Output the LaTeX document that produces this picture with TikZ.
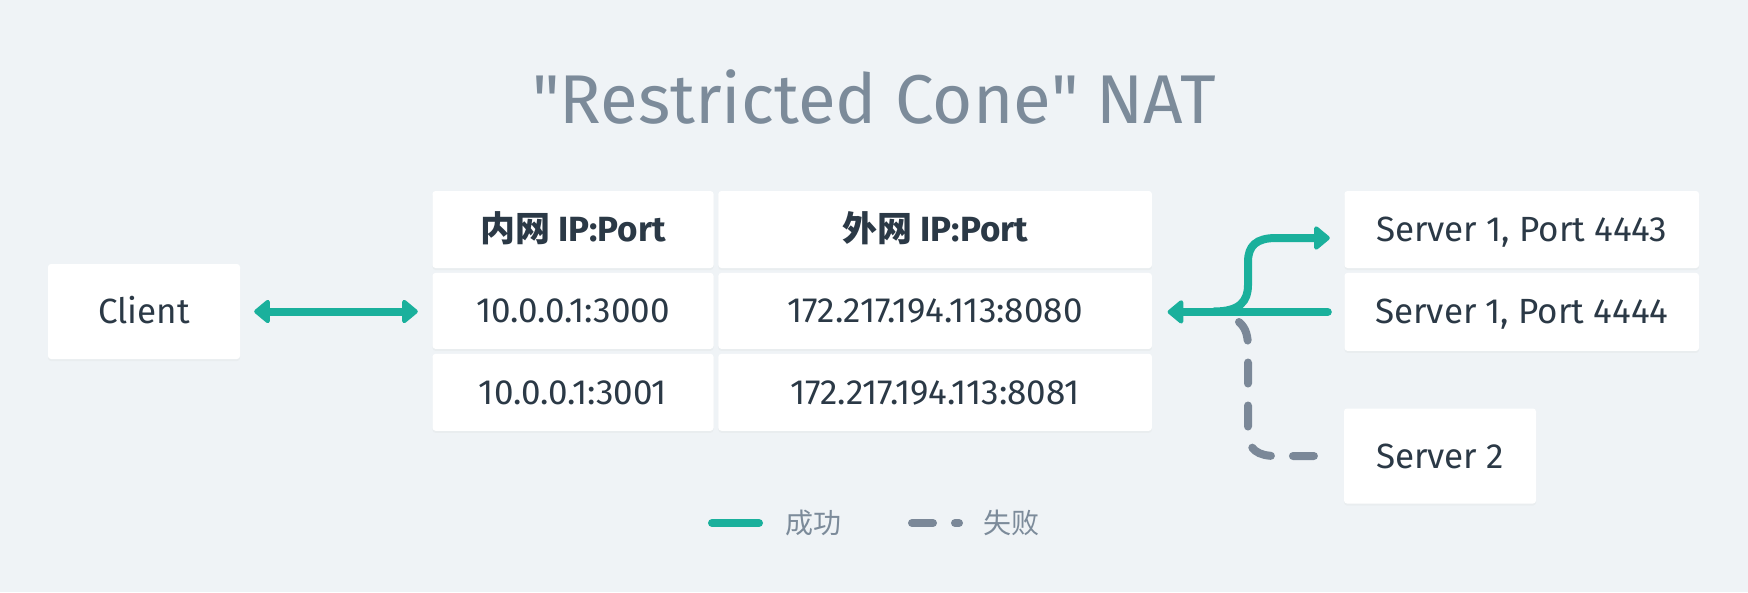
\documentclass[tikz,border=0pt]{standalone}
\usepackage{fontspec}
\setmainfont{Fira Sans}
\newfontfamily\cjk{Noto Sans CJK SC}
\usepackage{tikz}
\usetikzlibrary{positioning}
\usetikzlibrary{arrows.meta, shadows}
\definecolor{bgcol}{HTML}{EFF3F6}
\definecolor{okcol}{HTML}{1AB09C}
\definecolor{failcol}{HTML}{7B8898}
\definecolor{txtcol}{HTML}{2B3946}
\definecolor{titlecol}{HTML}{7C8B9A}
\tikzstyle{card} = [fill=white,draw=none,text=txtcol,rounded corners=3pt,inner sep=0pt,font=\fontsize{35}{42}\selectfont,text height=24pt,text depth=0pt,drop shadow={opacity=0.05,shadow xshift=0pt,shadow yshift=-2pt}]
\tikzstyle{okline} = [okcol,line width=8pt,line cap=round]
\tikzstyle{failline} = [failcol,line width=8pt,line cap=round,dash pattern=on 21pt off 22pt]
\tikzstyle{arrow} = [-{Triangle[length=17pt,width=27pt,round]}]
\tikzstyle{biarrow} = [{Triangle[length=17pt,width=27pt,round]}-{Triangle[length=17pt,width=27pt,round]}]
\tikzstyle{legend} = [text=titlecol,font=\cjk\fontsize{28}{34}\selectfont,inner sep=0pt,anchor=west]

\begin{document}
\begin{tikzpicture}[x=1pt,y=-1pt]
	\fill[bgcol] (0,0) rectangle (1748,592);
	\useasboundingbox (0,0) rectangle (1748,592);

	%Nodes
	\node [text=titlecol,font=\fontsize{69}{83}\selectfont,text height=48pt,text depth=0pt,inner sep=0pt] (title) at (874,99) {\textquotedbl Restricted Cone\textquotedbl{} NAT};

	\node [card,minimum width=192pt,minimum height=95pt] (client) at (144,311.5) {Client};

	\node [card,minimum width=281pt,minimum height=77pt] (h1) at (573,229.5) {\bfseries{\cjk\bfseries 内网} IP:Port};
	\node [card,minimum width=433.5pt,minimum height=77pt,right=4.5pt of h1] (h2) {\bfseries{\cjk\bfseries 外网} IP:Port};
	\node [card,minimum width=281pt,minimum height=76pt,below=4.5pt of h1] (int1) {10.0.0.1:3000};
	\node [card,minimum width=433.5pt,minimum height=76pt,below=4.5pt of h2] (ext1) {172.217.194.113:8080};
	\node [card,minimum width=281pt,minimum height=77pt,below=4.5pt of int1] (int2) {10.0.0.1:3001};
	\node [card,minimum width=433.5pt,minimum height=77pt,below=4.5pt of ext1] (ext2) {172.217.194.113:8081};

	\node [card,minimum width=354.5pt,minimum height=77pt] (s43) at (1521.75,229.5) {Server 1, Port 4443};
	\node [card,minimum width=354.5pt,minimum height=78pt,below=4.5pt of s43] (s44) {Server 1, Port 4444};
	\node [card,minimum width=192pt,minimum height=95pt] (s2) at (1440,456) {Server 2};

	%Lines
	\draw[okline,biarrow,shorten <=14pt,shorten >=14.5pt] (client.east) -- (client.east -| int1.west);
	\draw[okline,arrow,shorten <=16.5pt,shorten >=15.5pt] (s44.west) -- (s44.west -| ext1.east);

	\coordinate (split) at (1214,311.5);
	\draw[okline,arrow,shorten >=14.5pt] (split) .. controls (1240,311.5) and (1248,301) .. (1248,285) -- (1248,262) .. controls (1248,246) and (1256,238) .. (1276,238) -- ([yshift=-8.5pt]s43.west);

	\coordinate (drop) at (1239,322);
	\draw[failline,shorten >=16.5pt] (drop) .. controls (1246,328) and (1248,336) .. (1248,348) -- (1248,432) .. controls (1248,450) and (1258,456) .. (1276,456) -- (s2.west);

	%Legend
	\coordinate (ok1) at (712,523);
	\coordinate (ok2) at (759,523);
	\draw[okline] (ok1) -- (ok2);
	\node [legend] (oklabel) at (785,523) {成功};

	\coordinate (fail1) at (912,523);
	\coordinate (fail2) at (959,523);
	\draw[failline] (fail1) -- (fail2);
	\node [legend] (faillabel) at (983,523) {失败};
\end{tikzpicture}
\end{document}
